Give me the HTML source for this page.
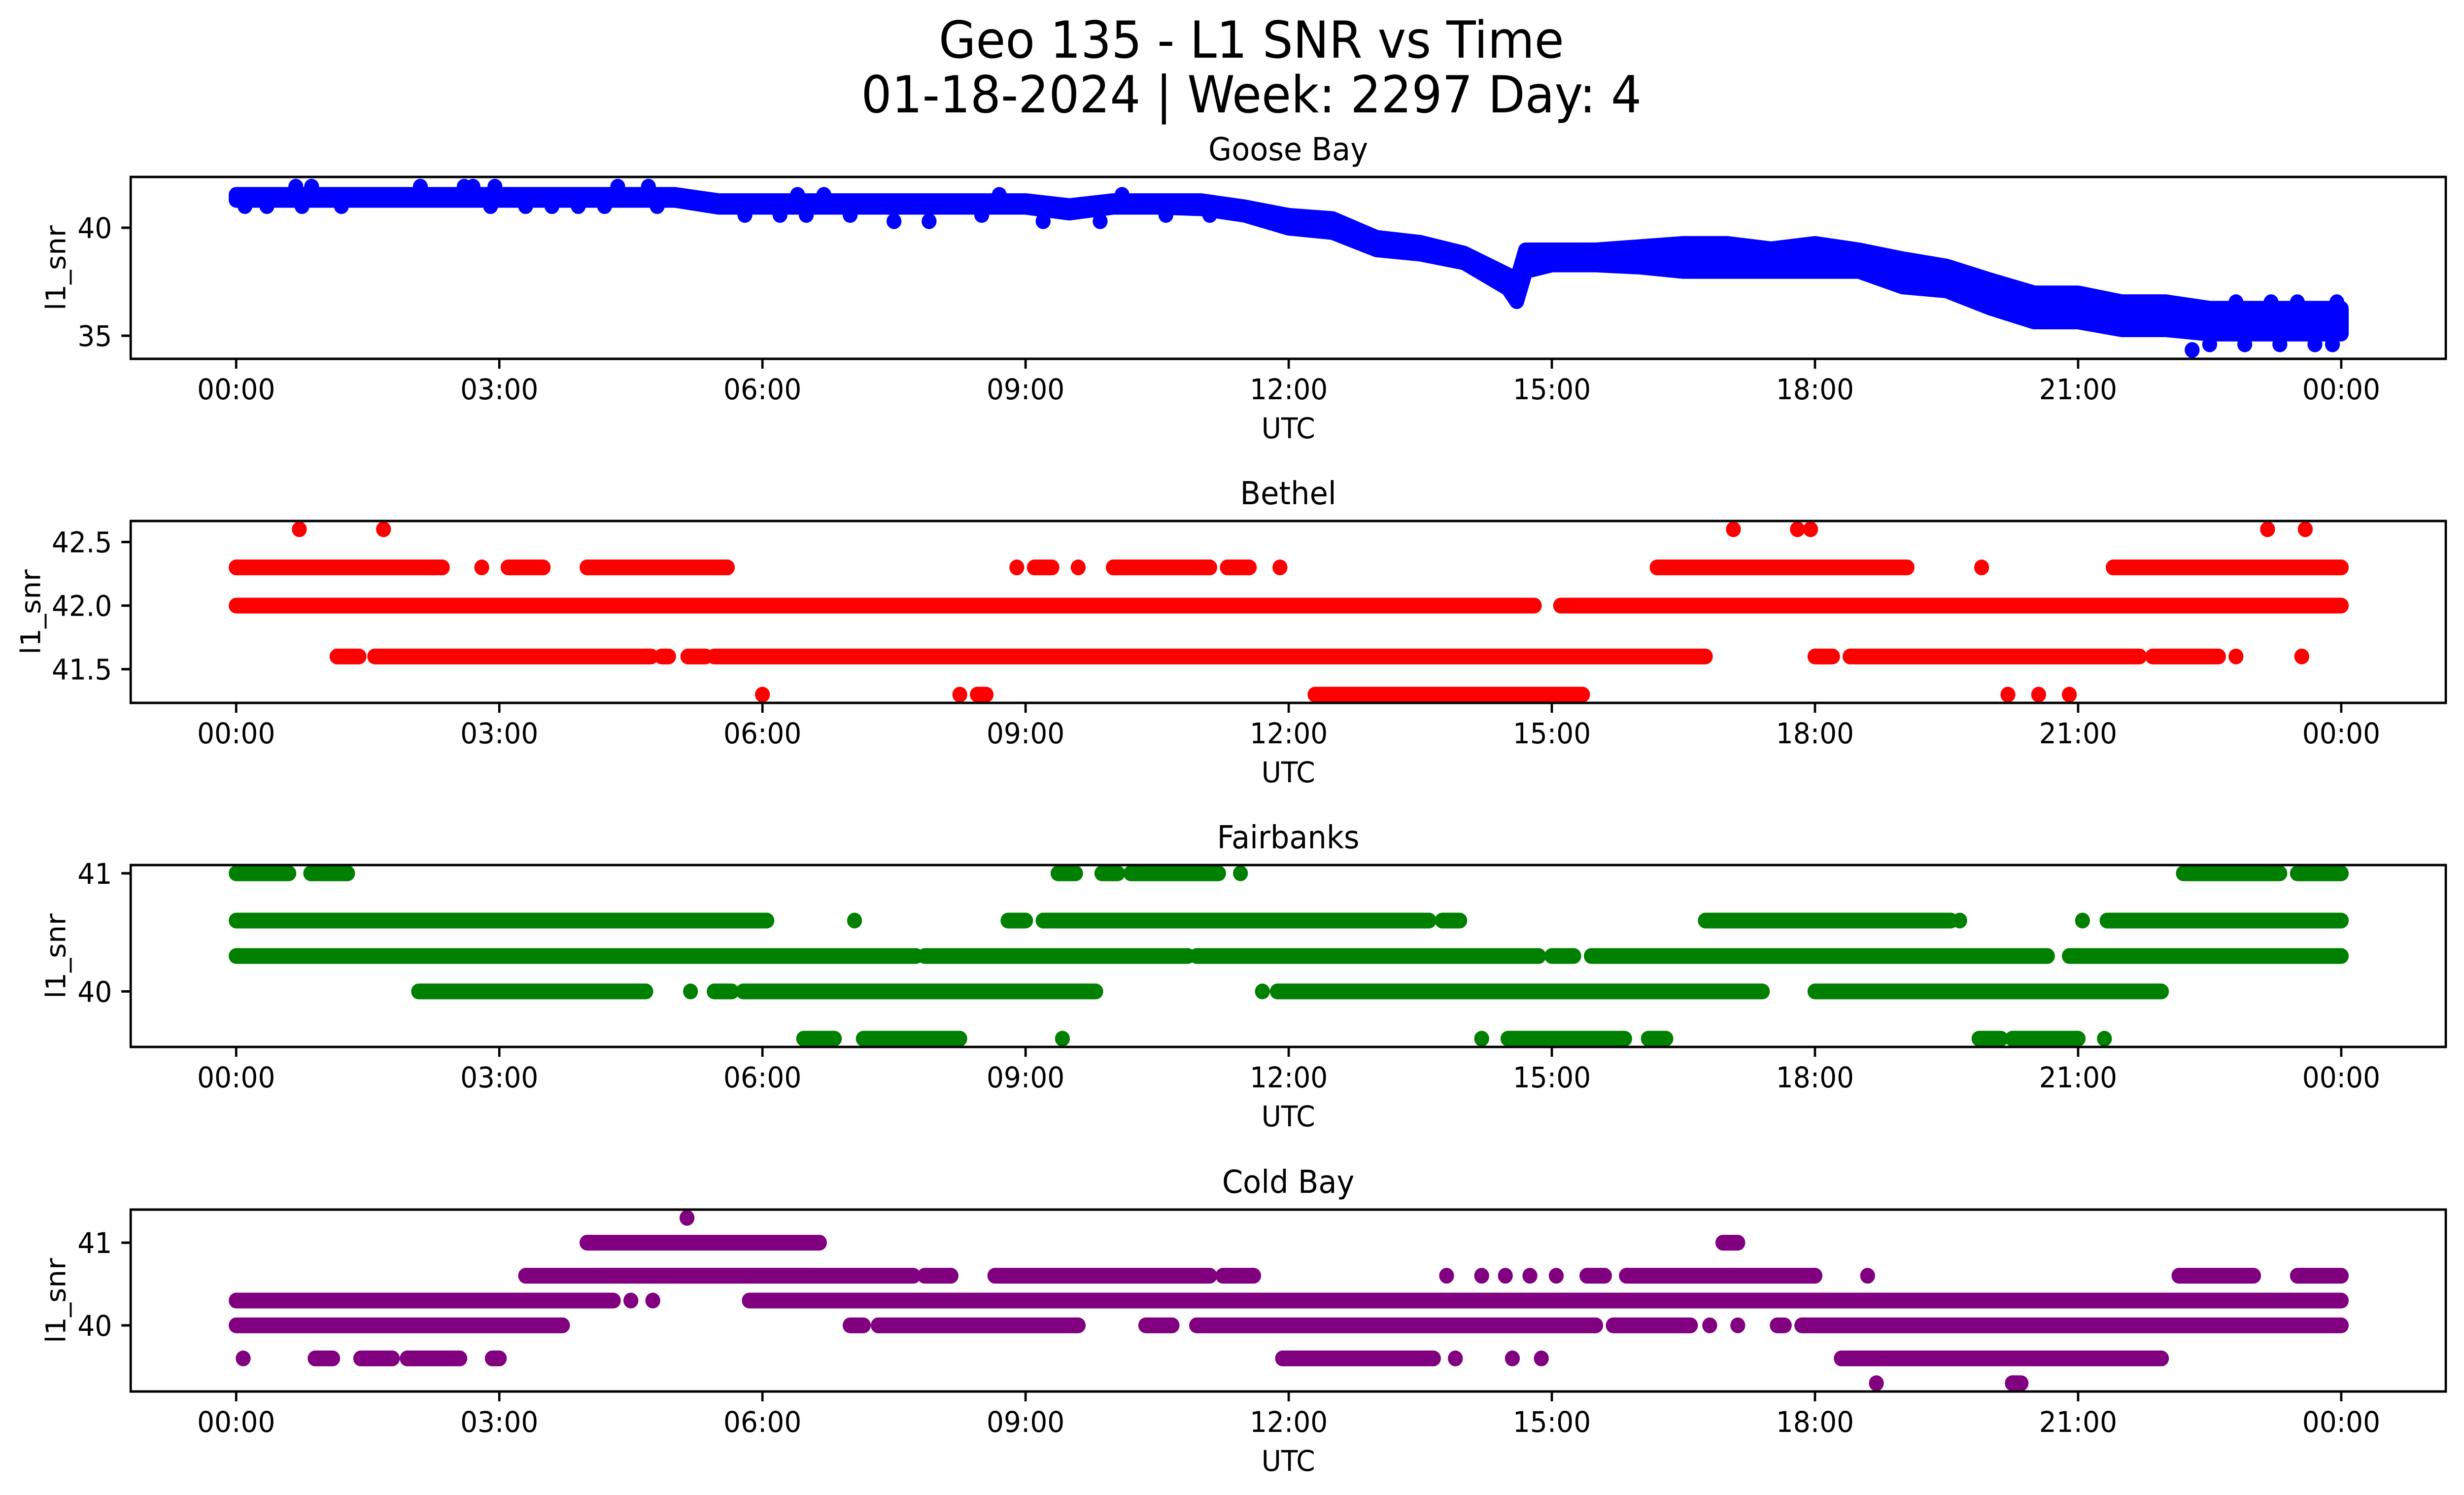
<!DOCTYPE html>
<html><head><meta charset="utf-8"><style>
html,body{margin:0;padding:0;background:#fff;overflow:hidden;width:100%;height:100%}
svg{display:block;width:100vw;height:100vh}
text{font-family:"DejaVu Sans","Liberation Sans",sans-serif;fill:#000}
</style></head><body>
<svg id="chart" viewBox="0 0 5279 3033" preserveAspectRatio="none" xmlns="http://www.w3.org/2000/svg">
<rect x="0" y="0" width="5279" height="3033" fill="#fff"/>
<text x="2681" y="117" font-size="103" text-anchor="middle">Geo 135 - L1 SNR vs Time</text>
<text x="2681" y="228" font-size="103" text-anchor="middle">01-18-2024 | Week: 2297 Day: 4</text>
<g id="plots"></g>
</svg>
<script>
// ---------- data ----------
const xTickLabels = ["00:00","03:00","06:00","09:00","12:00","15:00","18:00","21:00","00:00"];
const xTickHours = [0,3,6,9,12,15,18,21,24];

// Goose Bay: band envelope (hours, upper value, lower value) + outlier points
const gooseT  = [0,0.5,1,2,3,4,5,5.5,6,7,8,9,9.5,10,10.5,11,11.5,12,12.5,13,13.5,14,14.5,14.6,14.7,15,15.5,16,16.5,17,17.5,18,18.5,19,19.5,20,20.5,21,21.5,22,22.5,23,23.5,24];
const gooseHi = [41.52,41.52,41.52,41.52,41.52,41.52,41.52,41.23,41.23,41.23,41.23,41.23,41.0,41.23,41.23,41.23,40.94,40.55,40.4,39.53,39.3,38.8,37.8,37.56,38.95,38.95,38.95,39.1,39.25,39.25,39.0,39.25,38.95,38.54,38.2,37.56,36.96,36.96,36.55,36.55,36.25,36.25,36.25,36.25];
const gooseLo = [41.29,41.29,41.29,41.29,41.29,41.29,41.29,40.97,40.97,40.97,40.97,40.97,40.7,40.97,40.97,40.9,40.6,40.0,39.8,39.0,38.8,38.4,37.2,36.6,38.0,38.3,38.3,38.2,38.0,38.0,38.0,38.0,38.0,37.28,37.1,36.3,35.66,35.66,35.3,35.3,35.1,35.1,35.1,35.1];
const gooseOutT = [0.68,0.86,2.1,2.6,2.7,2.95,4.35,4.7,0.1,0.35,0.75,1.2,2.9,3.3,3.6,3.9,4.2,4.8,6.4,6.7,8.7,10.1,5.8,6.2,6.5,7.0,7.5,7.9,8.5,9.2,9.85,10.6,11.1,22.3,22.5,22.9,23.3,23.7,23.9,22.8,23.2,23.5,23.95];
const gooseOutV = [41.9,41.9,41.9,41.9,41.9,41.9,41.9,41.9,41.0,41.0,41.0,41.0,41.0,41.0,41.0,41.0,41.0,41.0,41.52,41.52,41.52,41.52,40.59,40.59,40.59,40.59,40.3,40.3,40.59,40.3,40.3,40.59,40.59,34.34,34.6,34.6,34.6,34.6,34.6,36.55,36.55,36.55,36.55];

// Bethel: runs [start,end] (hours) per level
const bethelLevels = [42.6,42.3,42.0,41.6,41.3];
const bethelRuns = [
 [[0.72,0.72],[1.68,1.68],[17.07,17.07],[17.8,17.8],[17.95,17.95],[23.16,23.16],[23.59,23.59]],
 [[0,2.35],[2.8,2.8],[3.1,3.5],[4.0,5.6],[8.9,8.9],[9.1,9.3],[9.6,9.6],[10.0,11.1],[11.3,11.55],[11.9,11.9],[16.2,19.05],[19.9,19.9],[21.4,24]],
 [[0,14.8],[15.1,24]],
 [[1.15,1.4],[1.58,4.73],[4.85,4.93],[5.15,5.35],[5.45,16.75],[18.0,18.2],[18.4,21.7],[21.85,22.6],[22.8,22.8],[23.55,23.55]],
 [[6.0,6.0],[8.25,8.25],[8.45,8.55],[12.3,15.35],[20.2,20.2],[20.55,20.55],[20.9,20.9]]
];

// Fairbanks
const fairLevels = [41.0,40.6,40.3,40.0,39.6];
const fairRuns = [
 [[0,0.6],[0.85,1.27],[9.37,9.57],[9.87,10.05],[10.2,11.2],[11.45,11.45],[22.2,23.3],[23.5,24]],
 [[0,6.05],[7.05,7.05],[8.8,9.0],[9.2,13.6],[13.75,13.95],[16.75,19.55],[19.65,19.65],[21.05,21.05],[21.33,24]],
 [[0,7.75],[7.85,10.85],[10.95,14.85],[15.0,15.25],[15.45,20.65],[20.9,24]],
 [[2.08,4.67],[5.18,5.18],[5.45,5.65],[5.78,9.8],[11.7,11.7],[11.87,17.4],[18.0,21.95]],
 [[6.47,6.82],[7.15,8.25],[9.42,9.42],[14.2,14.2],[14.5,15.83],[16.1,16.3],[19.87,20.12],[20.25,21.0],[21.3,21.3]]
];

// Cold Bay
const coldLevels = [41.3,41.0,40.6,40.3,40.0,39.6,39.3];
const coldRuns = [
 [[5.14,5.14]],
 [[4.0,6.65],[16.95,17.12]],
 [[3.3,7.72],[7.85,8.15],[8.65,11.1],[11.25,11.6],[13.8,13.8],[14.2,14.2],[14.47,14.47],[14.75,14.75],[15.05,15.05],[15.4,15.6],[15.85,18.0],[18.6,18.6],[22.15,23.0],[23.5,24]],
 [[0,4.3],[4.5,4.5],[4.75,4.75],[5.85,24]],
 [[0,3.72],[7.0,7.15],[7.32,9.6],[10.37,10.67],[10.95,15.5],[15.7,16.58],[16.8,16.8],[17.12,17.12],[17.57,17.65],[17.85,24]],
 [[0.08,0.08],[0.9,1.1],[1.42,1.78],[1.95,2.55],[2.92,3.0],[11.93,13.65],[13.9,13.9],[14.55,14.55],[14.88,14.88],[18.3,21.95]],
 [[18.7,18.7],[20.25,20.35]]
];

const panelTitles = ["Goose Bay","Bethel","Fairbanks","Cold Bay"];
const panelYMin = [33.93,41.235,39.53,39.2];
const panelYMax = [42.35,42.665,41.07,41.4];
const panelTicks = [[35,40],[41.5,42.0,42.5],[40,41],[40,41]];
const panelTickText = [["35","40"],["41.5","42.0","42.5"],["40","41"],["40","41"]];
const panelColors = ["#0000ff","#ff0000","#008000","#800080"];

// ---------- layout ----------
const NS = "http://www.w3.org/2000/svg";
const AX_L = 280, AX_R = 5240, PH = 369;
const TOPS = [359,1057,1755,2454];
const X0 = 506, X24 = 5016, R = 16;
const root = document.getElementById("plots");
function mk(tag, attrs, parent){ const e = document.createElementNS(NS, tag); for (const k in attrs) e.setAttribute(k, attrs[k]); (parent||root).appendChild(e); return e; }
function xs(h){ return X0 + (X24 - X0) * h / 24; }

for (let p = 0; p < 4; p++) {
  const top = TOPS[p], bot = top + PH, col = panelColors[p];
  const ys = v => bot - (v - panelYMin[p]) / (panelYMax[p] - panelYMin[p]) * PH;
  const g = mk("g", {});
  
  
  const marks = mk("g", {}, g);
  
  

  if (p === 0) {
    let pts = [];
    for (let i = 0; i < gooseT.length; i++) pts.push(xs(gooseT[i]) + "," + ys(gooseHi[i]));
    for (let i = gooseT.length - 1; i >= 0; i--) pts.push(xs(gooseT[i]) + "," + ys(gooseLo[i]));
    const band = mk("polygon", {points: pts.join(" "), fill: col, stroke: col, "stroke-width": 2*R, "stroke-linejoin": "round"}, marks);
    
    
    for (let i = 0; i < gooseOutT.length; i++) {
      const c = mk("circle", {cx: xs(gooseOutT[i]), cy: ys(gooseOutV[i]), r: R, fill: col}, marks);
      
      
    }
  } else {
    const levels = [null, bethelLevels, fairLevels, coldLevels][p];
    const runs = [null, bethelRuns, fairRuns, coldRuns][p];
    for (let l = 0; l < levels.length; l++) {
      const y = ys(levels[l]);
      for (const r of runs[l]) {
        if (r[0] === r[1]) {
          const c = mk("circle", {cx: xs(r[0]), cy: y, r: R, fill: col}, marks);
          
          
        } else {
          const ln = mk("line", {x1: xs(r[0]), x2: xs(r[1]), y1: y, y2: y, stroke: col, "stroke-width": 2*R, "stroke-linecap": "round"}, marks);
          
          
        }
      }
    }
  }

  const frame = mk("rect", {x: AX_L, y: top, width: AX_R - AX_L, height: PH, fill: "none", stroke: "#000", "stroke-width": 5}, g);
  
  

  for (let i = 0; i < xTickHours.length; i++) {
    const x = xs(xTickHours[i]);
    const t = mk("line", {x1: x, x2: x, y1: bot, y2: bot + 20, stroke: "#000", "stroke-width": 5}, g);
    
    
    const tl = mk("text", {x: x, y: bot + 82, "font-size": 58, "text-anchor": "middle"}, g);
    tl.textContent = xTickLabels[i];
    
    
  }
  for (let i = 0; i < panelTicks[p].length; i++) {
    const y = ys(panelTicks[p][i]);
    const t = mk("line", {x1: AX_L - 20, x2: AX_L, y1: y, y2: y, stroke: "#000", "stroke-width": 5}, g);
    
    
    const tl = mk("text", {x: 240, y: y + 21, "font-size": 58, "text-anchor": "end"}, g);
    tl.textContent = panelTickText[p][i];
    
    
  }
  const xl = mk("text", {x: (AX_L + AX_R) / 2, y: bot + 161, "font-size": 58, "text-anchor": "middle"}, g);
  xl.textContent = "UTC";
  
  
  const ylx = p === 1 ? 67 : 121, yly = top + PH / 2;
  const yl = mk("text", {x: ylx, y: yly, "font-size": 58, "text-anchor": "middle", "dominant-baseline": "central", transform: "rotate(-90 " + ylx + " " + yly + ")"}, g);
  yl.textContent = "l1_snr";
  
  
  const tt = mk("text", {x: (AX_L + AX_R) / 2, y: top - 34, "font-size": 64, "text-anchor": "middle"}, g);
  tt.textContent = panelTitles[p];
  
  
}
</script>
</body></html>
